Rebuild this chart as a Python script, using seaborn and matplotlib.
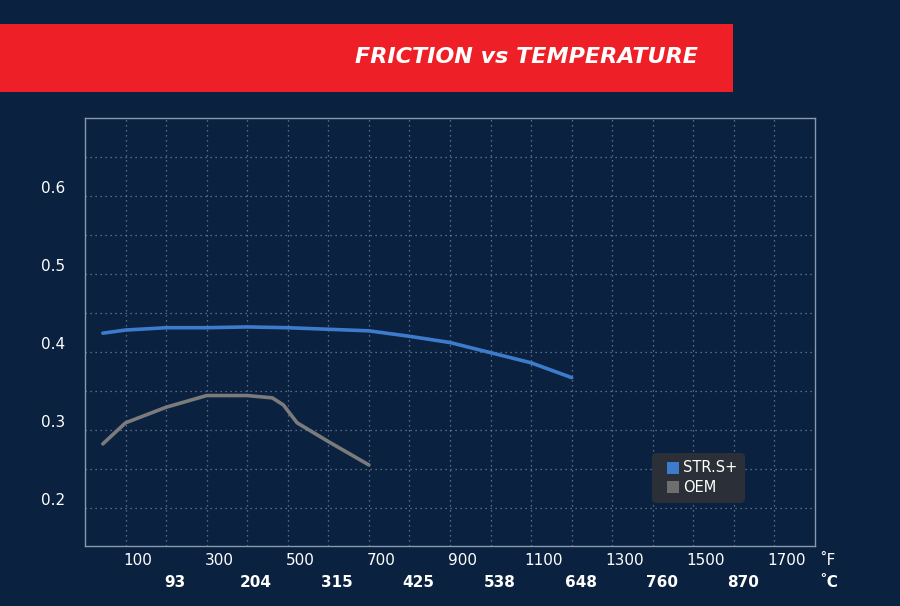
import matplotlib
matplotlib.use("Agg")
import matplotlib.pyplot as plt
import seaborn as sns
import pandas as pd
from matplotlib.patches import Rectangle, FancyBboxPatch

temp_str = [44, 100, 200, 300, 400, 500, 600, 700, 800, 900, 1000, 1100, 1200]
mu_str = [0.424, 0.428, 0.431, 0.431, 0.432, 0.431, 0.429, 0.427, 0.420, 0.412, 0.399, 0.386, 0.367]
temp_oem = [44, 100, 200, 300, 400, 462, 489, 523, 600, 700]
mu_oem = [0.282, 0.309, 0.329, 0.344, 0.344, 0.341, 0.332, 0.309, 0.285, 0.255]
f_ticks = [100, 300, 500, 700, 900, 1100, 1300, 1500, 1700]
c_pos = [200, 400, 600, 800, 1000, 1200, 1400, 1600]
c_labels = ["93", "204", "315", "425", "538", "648", "760", "870"]
y_ticks = [0.2, 0.3, 0.4, 0.5, 0.6]

BG = "#0a2140"
sns.set_style("dark")
plt.rcParams['font.family'] = ['DejaVu Sans']
fig = plt.figure(figsize=(9, 6.06), dpi=100, facecolor=BG)
ax = fig.add_axes([85/900, 60/606, 730/900, 428/606], facecolor=BG)

df = pd.concat([
    pd.DataFrame({"T": temp_str, "mu": mu_str, "s": "STR.S+"}),
    pd.DataFrame({"T": temp_oem, "mu": mu_oem, "s": "OEM"}),
])
sns.lineplot(data=df, x="T", y="mu", hue="s", palette={"STR.S+": "#3d7bcc", "OEM": "#7b7b7b"},
             linewidth=2.6, ax=ax, legend=False, sort=False)

ax.set_xlim(0, 1800)
ax.set_ylim(0.151, 0.70)
ax.set_xticks([])
ax.grid(False)
gkw = dict(color="#8a9ab0", linestyle=(0, (1, 3)), linewidth=0.9, alpha=0.8, zorder=0)
for f in range(100, 1800, 100):
    ax.axvline(f, **gkw)
for i in range(10):
    ax.axhline(0.2 + 0.05*i, **gkw)
ax.tick_params(which="both", length=0)
ax.set_yticks(y_ticks)
ax.set_yticklabels([f"{v:.1f}" for v in y_ticks], color="white", fontsize=11)
ax.tick_params(axis="y", pad=14)
for lab in ax.get_yticklabels():
    lab.set_verticalalignment("bottom")
ax.set_xlabel(""); ax.set_ylabel("")
for s in ax.spines.values():
    s.set_color("#8898ad"); s.set_linewidth(1)

tr = ax.get_xaxis_transform()
for f in f_ticks:
    ax.text(f + 30, -0.035, str(f), transform=tr, ha="center", va="center", color="white", fontsize=11)
for p, l in zip(c_pos, c_labels):
    ax.text(p + 22, -0.085, l, transform=tr, ha="center", va="center", color="white", fontsize=11,
            fontweight="bold")
ax.text(1810, -0.035, "˚F", transform=tr, ha="left", va="center", color="white", fontsize=11)
ax.text(1810, -0.085, "˚C", transform=tr, ha="left", va="center", color="white", fontsize=11,
        fontweight="bold")

# legend box
lb = FancyBboxPatch((652/900, (606-503)/606), 93/900, 50/606, boxstyle="round,pad=0,rounding_size=0.006",
                    transform=fig.transFigure, facecolor="#2b2f37", edgecolor="none", zorder=5)
fig.patches.append(lb)
fig.patches.append(Rectangle((667/900, (606-474)/606), 12/900, 12/606, transform=fig.transFigure,
                             facecolor="#3d7bcc", edgecolor="none", zorder=6))
fig.patches.append(Rectangle((667/900, (606-493)/606), 12/900, 12/606, transform=fig.transFigure,
                             facecolor="#6e6e6e", edgecolor="none", zorder=6))
fig.text(683/900, (606-468)/606, "STR.S+", color="white", fontsize=10.5, va="center", zorder=7)
fig.text(683/900, (606-487)/606, "OEM", color="white", fontsize=10.5, va="center", zorder=7)

# banner
fig.patches.append(Rectangle((0, (606-92)/606), 733/900, 68/606, transform=fig.transFigure,
                             facecolor="#ee1f27", edgecolor="none"))
fig.text(698/900, (606-57)/606, "FRICTION vs TEMPERATURE", color="white", fontsize=16,
         fontweight="bold", fontstyle="italic", ha="right", va="center")

fig.savefig("out.png", dpi=100, facecolor=BG)
